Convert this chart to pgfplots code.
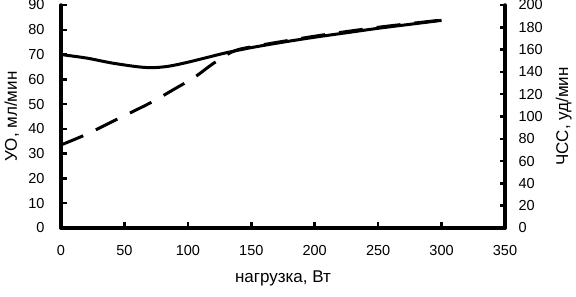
\documentclass[border=0pt]{standalone}
\usepackage{pgfplots}
\pgfplotsset{compat=1.18}
\usepackage{fontspec}
\setmainfont{Liberation Sans}
\begin{document}
\begin{tikzpicture}[font=\fontsize{14.5}{16}\selectfont]
\useasboundingbox (-61pt,-69pt) rectangle (515pt,228pt);
\pgfplotsset{
  common/.style={
    scale only axis, width=444pt, height=223pt,
    xmin=0, xmax=350,
    /pgf/number format/assume math mode=true,
    tick style={line width=2.5pt, black},
    major tick length=5.5pt,
    tick align=inside,
    axis line style={line width=3.5pt, line cap=round, line join=round},
    every axis plot/.append style={line width=3pt, black},
    label style={font=\fontsize{17}{19}\selectfont},
  }
}
\begin{axis}[common,
  axis x line*=bottom, axis y line*=left,
  ymin=0, ymax=90, ytick={0,10,...,90},
  xtick={0,50,...,350},
  xticklabel style={yshift=-14pt},
  yticklabel style={xshift=-13pt},
  xlabel={нагрузка, Вт},
  ylabel={УО, мл/мин},
  xlabel style={at={([yshift=-54pt]axis description cs:0.5,0)}, anchor=base},
  ylabel style={at={([xshift=-44pt]axis description cs:0,0.5)}, anchor=base, rotate=0},
]
\addplot[smooth] coordinates {
(0,70) (20,68.6) (40,66.6) (60,65.1) (72,64.7) (85,65.3) (100,66.9) (115,68.8)
(130,70.7) (150,72.8) (175,75) (200,77) (225,78.8) (250,80.6) (275,82.2) (300,83.8)
};
\end{axis}
\begin{axis}[common,
  axis x line=none, axis y line*=right,
  ymin=0, ymax=200, ytick={0,20,...,200},
  yticklabel style={xshift=10pt},
  ylabel={ЧСС, уд/мин},
  ylabel style={at={([xshift=63pt]axis description cs:1,0.5)}, anchor=base},
]
\addplot[smooth, dash pattern=on 24pt off 14pt] coordinates {
(0,74.5) (20,84) (45,98) (70,112) (90,125) (105,135) (120,147.5) (135,158)
(150,162.5) (200,172) (250,180) (300,186.5)
};
\end{axis}
\end{tikzpicture}
\end{document}
